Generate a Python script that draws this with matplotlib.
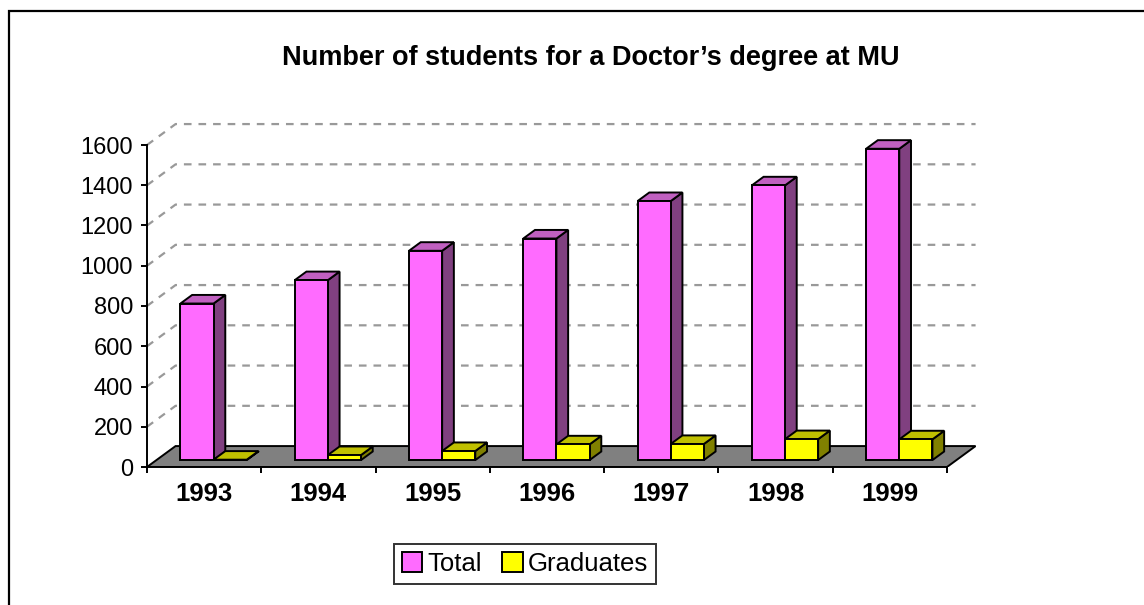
import matplotlib
matplotlib.use('Agg')
import matplotlib.pyplot as plt
from matplotlib.patches import Polygon, Rectangle, Patch

plt.rcParams['font.family'] = ['Liberation Sans', 'DejaVu Sans']
plt.rcParams['lines.scale_dashes'] = False

years = ['1993', '1994', '1995', '1996', '1997', '1998', '1999']
total = [778, 894, 1040, 1101, 1287, 1365, 1547]
graduates = [2, 25, 45, 78, 80, 104, 103]
yticks = [0, 200, 400, 600, 800, 1000, 1200, 1400, 1600]

# oblique projection: depth z in [0,1] shifts by (ox, oy) in data units
ox, oy = 0.25, 104
z0, z1 = 0.33, 0.74
bw = 0.29

W, H = 1144, 605
fig = plt.figure(figsize=(W / 100, H / 100), dpi=100)
x_left, x_right = 147, 947 + ox * 800 / 7
y_bot = 467
y_top = y_bot - (1600 + oy) * 0.20125
ax = fig.add_axes([x_left / W, (H - y_bot) / H, (x_right - x_left) / W, (y_bot - y_top) / H])
ax.set_xlim(-0.5, 6.5 + ox)
ax.set_ylim(0, 1600 + oy)


def proj(x, y, z):
    return (x + z * ox, y + z * oy)


# gridlines on left wall + back wall
for v in yticks[1:]:
    ax.plot([-0.5, -0.5 + ox, 6.5 + ox], [v, v + oy, v + oy], color='#999999', lw=1.6,
            linestyle=(0, (5.5, 5)), zorder=1, clip_on=False)

# floor
floor = Polygon([proj(-0.5, 0, 0), proj(6.5, 0, 0), proj(6.5, 0, 1), proj(-0.5, 0, 1)],
                closed=True, facecolor='#808080', edgecolor='black', lw=1.4, zorder=2)
ax.add_patch(floor)


def bar3d(x0, x1, v, front, top, side, z):
    pts_front = [proj(x0, 0, z0), proj(x1, 0, z0), proj(x1, v, z0), proj(x0, v, z0)]
    pts_top = [proj(x0, v, z0), proj(x1, v, z0), proj(x1, v, z1), proj(x0, v, z1)]
    pts_side = [proj(x1, 0, z0), proj(x1, 0, z1), proj(x1, v, z1), proj(x1, v, z0)]
    for pts, c in [(pts_side, side), (pts_top, top), (pts_front, front)]:
        ax.add_patch(Polygon(pts, closed=True, facecolor=c, edgecolor='black', lw=1.4,
                             joinstyle='miter', zorder=z))


for i in range(len(years)):
    bar3d(i - bw, i, total[i], '#FF6BFF', '#C060C0', '#804080', 3 + 2 * i)
    bar3d(i, i + bw, graduates[i], '#FFFF00', '#C0C000', '#808000', 4 + 2 * i)

# axes styling
for s in ['top', 'right']:
    ax.spines[s].set_visible(False)
ax.spines['left'].set_bounds(0, 1600)
ax.spines['bottom'].set_bounds(-0.5, 6.5)
ax.spines['left'].set_linewidth(1.4)
ax.spines['bottom'].set_linewidth(1.4)
ax.spines['left'].set_zorder(20)
ax.spines['bottom'].set_zorder(20)
ax.set_yticks(yticks)
ax.set_yticklabels([str(t) for t in yticks], fontsize=17)
ax.tick_params(axis='y', length=4, width=1.4, pad=6)
ax.set_xticks([i - 0.5 for i in range(len(years) + 1)])
ax.set_xticklabels([])
ax.set_xticks(range(len(years)), minor=True)
ax.set_xticklabels(years, minor=True, fontsize=18.5, fontweight='bold')
ax.tick_params(axis='x', which='major', length=4, width=1.4)
ax.tick_params(axis='x', which='minor', length=0, pad=11)
ax.set_facecolor('none')

fig.text(591 / W, 1 - 58 / H, 'Number of students for a Doctor\u2019s degree at MU',
         ha='center', va='center', fontsize=19.5, fontweight='bold')

handles = [Patch(facecolor='#FF6BFF', edgecolor='black', lw=1.4),
           Patch(facecolor='#FFFF00', edgecolor='black', lw=1.4)]
leg = fig.legend(handles, ['Total', 'Graduates'], loc='center', ncol=2,
                 bbox_to_anchor=(525 / W, 1 - 564 / H), fontsize=18.5, frameon=True,
                 fancybox=False, handlelength=0.8, handleheight=0.8, handletextpad=0.2,
                 columnspacing=0.8, borderpad=0.3, borderaxespad=0)
leg.get_frame().set_edgecolor('black')
leg.get_frame().set_linewidth(1.4)

# chart area border (cut at right and bottom)
fig.patches.append(Rectangle((8.5 / W, -0.1), 1.2, 1 - 11 / H + 0.1, transform=fig.transFigure,
                             fill=False, edgecolor='black', lw=1.6))

fig.savefig('out.png', dpi=100)
